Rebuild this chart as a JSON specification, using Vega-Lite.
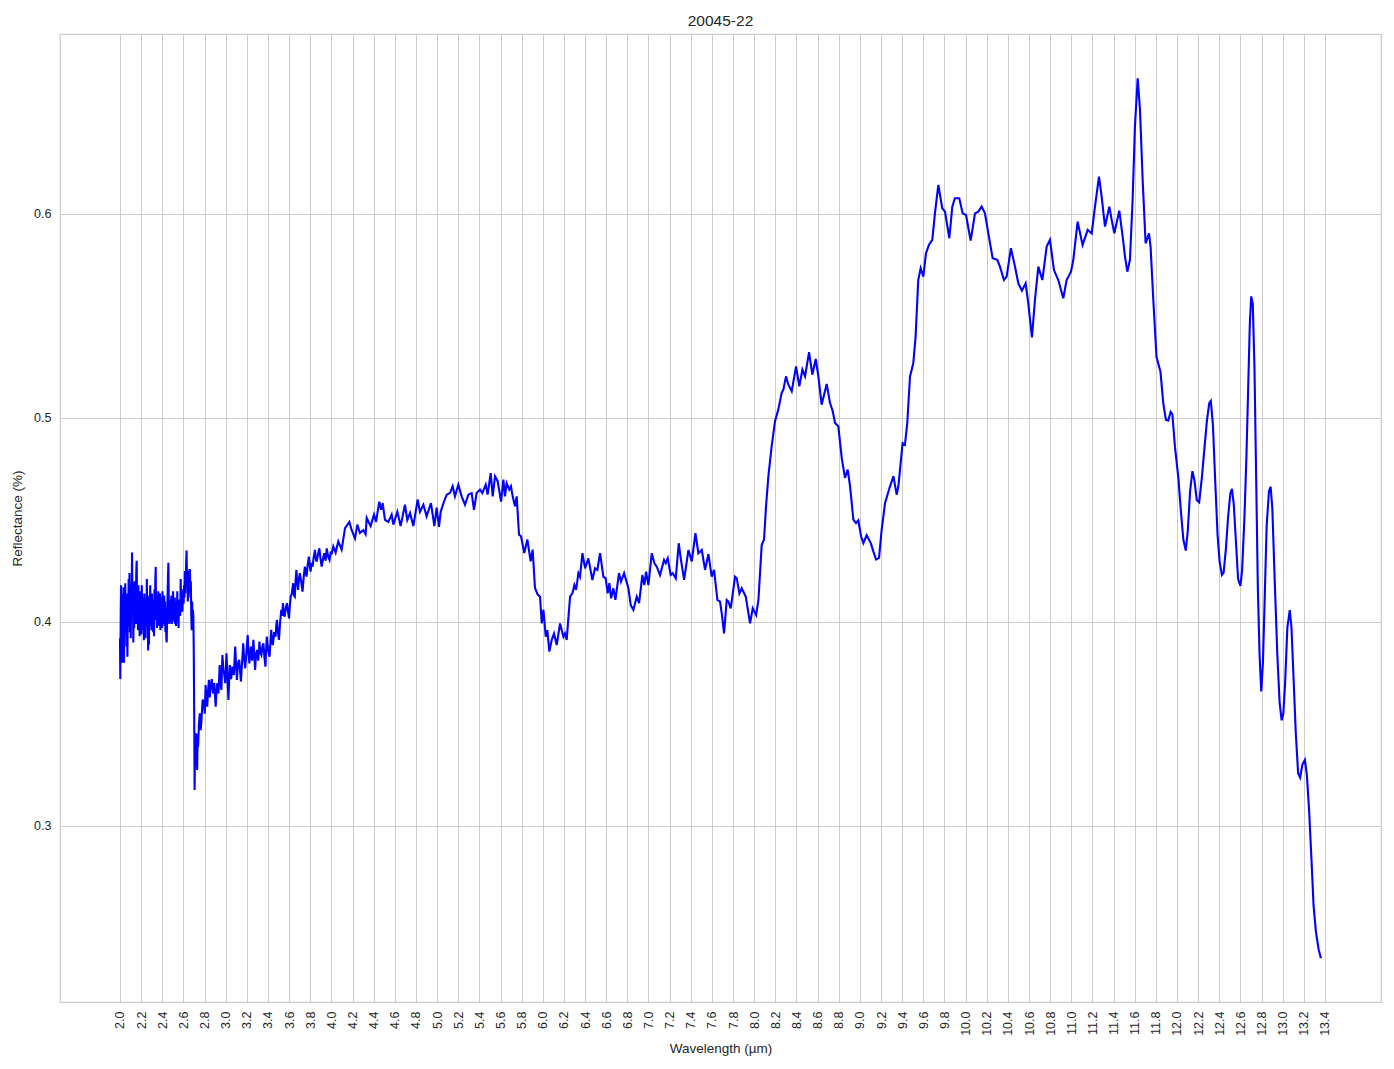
{
  "$schema": "https://vega.github.io/schema/vega-lite/v6.json",
  "width": 1321,
  "height": 968,
  "autosize": {"type": "none"},
  "padding": {"left": 60, "top": 34, "right": 13, "bottom": 67},
  "background": "white",
  "title": {"text": "20045-22", "anchor": "middle", "offset": 8, "baseline": "alphabetic", "dy": 15},
  "data": {"values": [
    {"w":2.000,"r":0.392},{"w":2.003,"r":0.372},{"w":2.007,"r":0.405},{"w":2.010,"r":0.418},{"w":2.014,"r":0.386},{"w":2.018,"r":0.410},{"w":2.022,"r":0.380},{"w":2.026,"r":0.414},{"w":2.030,"r":0.396},{"w":2.034,"r":0.417},{"w":2.038,"r":0.380},{"w":2.042,"r":0.408},{"w":2.046,"r":0.394},{"w":2.050,"r":0.419},{"w":2.054,"r":0.399},{"w":2.058,"r":0.412},{"w":2.062,"r":0.388},{"w":2.066,"r":0.414},{"w":2.070,"r":0.383},{"w":2.074,"r":0.405},{"w":2.078,"r":0.398},{"w":2.082,"r":0.421},{"w":2.086,"r":0.401},{"w":2.090,"r":0.424},{"w":2.094,"r":0.395},{"w":2.098,"r":0.415},{"w":2.102,"r":0.392},{"w":2.106,"r":0.418},{"w":2.110,"r":0.404},{"w":2.114,"r":0.434},{"w":2.118,"r":0.409},{"w":2.122,"r":0.419},{"w":2.126,"r":0.390},{"w":2.130,"r":0.411},{"w":2.134,"r":0.397},{"w":2.138,"r":0.420},{"w":2.142,"r":0.402},{"w":2.146,"r":0.416},{"w":2.150,"r":0.399},{"w":2.154,"r":0.425},{"w":2.158,"r":0.430},{"w":2.162,"r":0.404},{"w":2.166,"r":0.413},{"w":2.170,"r":0.396},{"w":2.174,"r":0.418},{"w":2.178,"r":0.401},{"w":2.182,"r":0.410},{"w":2.186,"r":0.393},{"w":2.190,"r":0.415},{"w":2.194,"r":0.399},{"w":2.198,"r":0.411},{"w":2.202,"r":0.394},{"w":2.206,"r":0.418},{"w":2.210,"r":0.403},{"w":2.214,"r":0.412},{"w":2.218,"r":0.396},{"w":2.222,"r":0.408},{"w":2.226,"r":0.391},{"w":2.230,"r":0.414},{"w":2.234,"r":0.397},{"w":2.238,"r":0.411},{"w":2.242,"r":0.392},{"w":2.246,"r":0.409},{"w":2.250,"r":0.401},{"w":2.254,"r":0.421},{"w":2.258,"r":0.398},{"w":2.262,"r":0.412},{"w":2.266,"r":0.386},{"w":2.270,"r":0.405},{"w":2.274,"r":0.389},{"w":2.278,"r":0.413},{"w":2.282,"r":0.398},{"w":2.286,"r":0.418},{"w":2.290,"r":0.401},{"w":2.294,"r":0.410},{"w":2.298,"r":0.396},{"w":2.302,"r":0.414},{"w":2.306,"r":0.400},{"w":2.310,"r":0.411},{"w":2.314,"r":0.395},{"w":2.318,"r":0.408},{"w":2.322,"r":0.393},{"w":2.326,"r":0.416},{"w":2.330,"r":0.402},{"w":2.334,"r":0.420},{"w":2.338,"r":0.427},{"w":2.342,"r":0.401},{"w":2.346,"r":0.413},{"w":2.350,"r":0.397},{"w":2.354,"r":0.410},{"w":2.358,"r":0.399},{"w":2.362,"r":0.415},{"w":2.366,"r":0.398},{"w":2.370,"r":0.409},{"w":2.374,"r":0.402},{"w":2.378,"r":0.414},{"w":2.382,"r":0.396},{"w":2.386,"r":0.406},{"w":2.390,"r":0.400},{"w":2.394,"r":0.412},{"w":2.398,"r":0.397},{"w":2.402,"r":0.415},{"w":2.406,"r":0.401},{"w":2.410,"r":0.408},{"w":2.414,"r":0.399},{"w":2.418,"r":0.413},{"w":2.422,"r":0.398},{"w":2.426,"r":0.410},{"w":2.430,"r":0.395},{"w":2.434,"r":0.405},{"w":2.438,"r":0.392},{"w":2.442,"r":0.390},{"w":2.446,"r":0.404},{"w":2.450,"r":0.412},{"w":2.454,"r":0.422},{"w":2.458,"r":0.429},{"w":2.462,"r":0.408},{"w":2.466,"r":0.399},{"w":2.470,"r":0.411},{"w":2.474,"r":0.400},{"w":2.478,"r":0.409},{"w":2.482,"r":0.402},{"w":2.486,"r":0.413},{"w":2.490,"r":0.399},{"w":2.494,"r":0.407},{"w":2.498,"r":0.401},{"w":2.502,"r":0.415},{"w":2.506,"r":0.403},{"w":2.510,"r":0.409},{"w":2.514,"r":0.400},{"w":2.518,"r":0.412},{"w":2.522,"r":0.399},{"w":2.526,"r":0.406},{"w":2.530,"r":0.398},{"w":2.534,"r":0.410},{"w":2.538,"r":0.402},{"w":2.542,"r":0.415},{"w":2.546,"r":0.400},{"w":2.550,"r":0.408},{"w":2.554,"r":0.397},{"w":2.558,"r":0.411},{"w":2.562,"r":0.404},{"w":2.566,"r":0.409},{"w":2.570,"r":0.403},{"w":2.574,"r":0.421},{"w":2.578,"r":0.410},{"w":2.582,"r":0.414},{"w":2.586,"r":0.406},{"w":2.590,"r":0.405},{"w":2.594,"r":0.411},{"w":2.598,"r":0.416},{"w":2.602,"r":0.409},{"w":2.606,"r":0.418},{"w":2.610,"r":0.412},{"w":2.614,"r":0.425},{"w":2.618,"r":0.414},{"w":2.622,"r":0.420},{"w":2.626,"r":0.429},{"w":2.630,"r":0.435},{"w":2.634,"r":0.418},{"w":2.638,"r":0.426},{"w":2.642,"r":0.410},{"w":2.646,"r":0.422},{"w":2.650,"r":0.417},{"w":2.654,"r":0.425},{"w":2.658,"r":0.414},{"w":2.662,"r":0.426},{"w":2.666,"r":0.412},{"w":2.670,"r":0.420},{"w":2.674,"r":0.405},{"w":2.678,"r":0.396},{"w":2.682,"r":0.410},{"w":2.686,"r":0.402},{"w":2.690,"r":0.406},{"w":2.694,"r":0.403},{"w":2.698,"r":0.385},{"w":2.702,"r":0.355},{"w":2.706,"r":0.3176},
    {"w":2.710,"r":0.342},{"w":2.714,"r":0.336},{"w":2.720,"r":0.3454},{"w":2.725,"r":0.334},{"w":2.730,"r":0.3275},{"w":2.735,"r":0.345},{"w":2.739,"r":0.339},{"w":2.747,"r":0.350},{"w":2.755,"r":0.3552},{"w":2.763,"r":0.347},{"w":2.771,"r":0.352},{"w":2.782,"r":0.362},{"w":2.794,"r":0.3601},{"w":2.802,"r":0.355},{"w":2.810,"r":0.3691},{"w":2.818,"r":0.362},{"w":2.825,"r":0.3585},{"w":2.833,"r":0.366},{"w":2.841,"r":0.3716},{"w":2.849,"r":0.363},{"w":2.857,"r":0.3683},{"w":2.868,"r":0.372},{"w":2.880,"r":0.365},{"w":2.892,"r":0.370},{"w":2.905,"r":0.3585},{"w":2.913,"r":0.366},{"w":2.921,"r":0.370},{"w":2.932,"r":0.365},{"w":2.943,"r":0.3789},{"w":2.951,"r":0.371},{"w":2.959,"r":0.3667},{"w":2.964,"r":0.375},{"w":2.969,"r":0.3838},{"w":2.977,"r":0.377},{"w":2.985,"r":0.3748},{"w":2.996,"r":0.370},{"w":3.007,"r":0.3846},{"w":3.016,"r":0.374},{"w":3.026,"r":0.3618},{"w":3.033,"r":0.372},{"w":3.039,"r":0.3789},{"w":3.051,"r":0.372},{"w":3.064,"r":0.3781},{"w":3.077,"r":0.374},{"w":3.090,"r":0.3879},{"w":3.098,"r":0.379},{"w":3.106,"r":0.3716},{"w":3.117,"r":0.380},{"w":3.128,"r":0.3814},{"w":3.136,"r":0.376},{"w":3.144,"r":0.3708},{"w":3.155,"r":0.380},{"w":3.166,"r":0.3895},{"w":3.175,"r":0.382},{"w":3.185,"r":0.3773},{"w":3.196,"r":0.385},{"w":3.208,"r":0.3936},{"w":3.216,"r":0.385},{"w":3.224,"r":0.3797},{"w":3.231,"r":0.384},{"w":3.239,"r":0.3879},{"w":3.250,"r":0.381},{"w":3.262,"r":0.3912},{"w":3.270,"r":0.384},{"w":3.278,"r":0.3765},{"w":3.287,"r":0.384},{"w":3.297,"r":0.3863},{"w":3.308,"r":0.381},{"w":3.319,"r":0.3904},{"w":3.328,"r":0.385},{"w":3.338,"r":0.3838},{"w":3.347,"r":0.388},{"w":3.357,"r":0.3895},{"w":3.366,"r":0.383},{"w":3.376,"r":0.3781},{"w":3.382,"r":0.386},{"w":3.389,"r":0.3928},{"w":3.402,"r":0.386},{"w":3.415,"r":0.383},{"w":3.423,"r":0.390},{"w":3.431,"r":0.3961},{"w":3.438,"r":0.390},{"w":3.446,"r":0.3887},{"w":3.459,"r":0.395},{"w":3.472,"r":0.3928},{"w":3.478,"r":0.398},{"w":3.485,"r":0.401},{"w":3.494,"r":0.395},{"w":3.504,"r":0.3912},{"w":3.515,"r":0.400},{"w":3.526,"r":0.4059},{"w":3.534,"r":0.403},{"w":3.542,"r":0.4092},{"w":3.550,"r":0.404},{"w":3.558,"r":0.4026},{"w":3.569,"r":0.407},{"w":3.580,"r":0.4092},{"w":3.590,"r":0.405},{"w":3.599,"r":0.4018},{"w":3.607,"r":0.408},{"w":3.615,"r":0.4124},{"w":3.626,"r":0.414},{"w":3.638,"r":0.419},{"w":3.646,"r":0.413},{"w":3.654,"r":0.4124},{"w":3.661,"r":0.420},{"w":3.669,"r":0.4255},{"w":3.677,"r":0.419},{"w":3.685,"r":0.4157},{"w":3.693,"r":0.421},{"w":3.701,"r":0.4239},{"w":3.714,"r":0.420},{"w":3.727,"r":0.4149},{"w":3.738,"r":0.422},{"w":3.749,"r":0.4271},{"w":3.757,"r":0.425},{"w":3.765,"r":0.4222},{"w":3.776,"r":0.428},{"w":3.787,"r":0.432},{"w":3.795,"r":0.428},{"w":3.803,"r":0.4247},{"w":3.812,"r":0.429},{"w":3.822,"r":0.4271},{"w":3.833,"r":0.432},{"w":3.845,"r":0.4353},{"w":3.853,"r":0.431},{"w":3.861,"r":0.4296},{"w":3.873,"r":0.433},{"w":3.886,"r":0.4361},{"w":3.897,"r":0.431},{"w":3.908,"r":0.4271},{"w":3.921,"r":0.431},{"w":3.934,"r":0.4337},{"w":3.945,"r":0.430},{"w":3.956,"r":0.4361},{"w":3.969,"r":0.432},{"w":3.982,"r":0.4304},{"w":3.993,"r":0.434},{"w":4.004,"r":0.4337},{"w":4.018,"r":0.437},
    {"w":4.040,"r":0.434},{"w":4.065,"r":0.4395},{"w":4.097,"r":0.4355},{"w":4.129,"r":0.446},{"w":4.170,"r":0.449},{"w":4.192,"r":0.445},{"w":4.223,"r":0.441},{"w":4.245,"r":0.4477},{"w":4.270,"r":0.4436},{"w":4.302,"r":0.445},{"w":4.324,"r":0.443},{"w":4.334,"r":0.451},{"w":4.371,"r":0.447},{"w":4.403,"r":0.4526},{"w":4.422,"r":0.449},{"w":4.453,"r":0.459},{"w":4.470,"r":0.455},{"w":4.485,"r":0.4583},{"w":4.507,"r":0.450},{"w":4.539,"r":0.449},{"w":4.570,"r":0.4526},{"w":4.586,"r":0.4477},{"w":4.624,"r":0.454},{"w":4.655,"r":0.447},{"w":4.696,"r":0.4575},{"w":4.718,"r":0.450},{"w":4.744,"r":0.4534},{"w":4.775,"r":0.447},{"w":4.816,"r":0.460},{"w":4.838,"r":0.454},{"w":4.870,"r":0.4575},{"w":4.901,"r":0.4518},{"w":4.942,"r":0.4583},{"w":4.974,"r":0.447},{"w":4.996,"r":0.456},{"w":5.018,"r":0.4466},{"w":5.034,"r":0.454},{"w":5.065,"r":0.459},{"w":5.091,"r":0.4624},{"w":5.122,"r":0.4632},{"w":5.147,"r":0.4665},{"w":5.169,"r":0.4616},{"w":5.201,"r":0.4673},{"w":5.232,"r":0.4616},{"w":5.264,"r":0.4575},{"w":5.296,"r":0.4624},{"w":5.327,"r":0.4632},{"w":5.349,"r":0.455},{"w":5.374,"r":0.4632},{"w":5.406,"r":0.4649},{"w":5.428,"r":0.4632},{"w":5.460,"r":0.4673},{"w":5.478,"r":0.4624},{"w":5.507,"r":0.473},{"w":5.526,"r":0.4616},{"w":5.548,"r":0.4714},{"w":5.573,"r":0.469},{"w":5.605,"r":0.459},{"w":5.627,"r":0.4698},{"w":5.642,"r":0.4616},{"w":5.658,"r":0.468},{"w":5.683,"r":0.4649},{"w":5.699,"r":0.4665},{"w":5.715,"r":0.4616},{"w":5.737,"r":0.4567},{"w":5.753,"r":0.4616},{"w":5.775,"r":0.4428},{"w":5.794,"r":0.442},{"w":5.825,"r":0.4338},{"w":5.854,"r":0.4404},{"w":5.885,"r":0.4297},{"w":5.904,"r":0.4355},{"w":5.926,"r":0.4167},{"w":5.952,"r":0.4134},{"w":5.974,"r":0.4124},
    {"w":5.990,"r":0.3993},{"w":6.006,"r":0.406},{"w":6.028,"r":0.3928},{"w":6.043,"r":0.396},{"w":6.062,"r":0.3855},{"w":6.084,"r":0.3912},{"w":6.106,"r":0.3944},{"w":6.132,"r":0.3887},{"w":6.163,"r":0.3993},{"w":6.195,"r":0.3928},{"w":6.210,"r":0.3944},{"w":6.226,"r":0.3912},{"w":6.258,"r":0.4124},{"w":6.280,"r":0.414},{"w":6.299,"r":0.4181},{"w":6.315,"r":0.4157},{"w":6.337,"r":0.4239},{"w":6.352,"r":0.4222},{"w":6.375,"r":0.4337},{"w":6.400,"r":0.4263},{"w":6.431,"r":0.4312},{"w":6.469,"r":0.4206},{"w":6.494,"r":0.4263},{"w":6.516,"r":0.4255},{"w":6.542,"r":0.4337},{"w":6.573,"r":0.4222},{"w":6.595,"r":0.4214},{"w":6.614,"r":0.414},{"w":6.630,"r":0.419},{"w":6.646,"r":0.4116},{"w":6.668,"r":0.4165},{"w":6.687,"r":0.4108},{"w":6.721,"r":0.4239},{"w":6.740,"r":0.4198},{"w":6.769,"r":0.4239},{"w":6.810,"r":0.4165},{"w":6.832,"r":0.4083},{"w":6.857,"r":0.4059},{"w":6.889,"r":0.4124},{"w":6.911,"r":0.4092},{"w":6.942,"r":0.423},{"w":6.961,"r":0.4181},{"w":6.977,"r":0.4247},{"w":6.999,"r":0.4181},{"w":7.031,"r":0.4337},{"w":7.056,"r":0.4288},{"w":7.078,"r":0.4271},{"w":7.109,"r":0.423},{"w":7.147,"r":0.4304},{"w":7.163,"r":0.4288},{"w":7.182,"r":0.4312},{"w":7.210,"r":0.423},{"w":7.229,"r":0.4239},{"w":7.258,"r":0.4214},{"w":7.286,"r":0.4386},{"w":7.305,"r":0.4312},{"w":7.337,"r":0.4206},{"w":7.378,"r":0.4353},{"w":7.409,"r":0.4296},{"w":7.444,"r":0.4435},{"w":7.472,"r":0.4337},{"w":7.504,"r":0.4353},{"w":7.535,"r":0.4255},{"w":7.567,"r":0.4333},{"w":7.598,"r":0.4222},{"w":7.620,"r":0.4255},{"w":7.652,"r":0.4108},{"w":7.677,"r":0.41},{"w":7.693,"r":0.4042},{"w":7.715,"r":0.3944},{"w":7.740,"r":0.4108},{"w":7.756,"r":0.41},{"w":7.778,"r":0.4067},{"w":7.819,"r":0.4222},{"w":7.835,"r":0.4214},{"w":7.860,"r":0.414},{"w":7.882,"r":0.4165},{"w":7.920,"r":0.4124},{"w":7.961,"r":0.3993},{"w":7.986,"r":0.4067},{"w":8.018,"r":0.4034},{"w":8.040,"r":0.4108},{"w":8.071,"r":0.4377},{"w":8.093,"r":0.4404},
    {"w":8.112,"r":0.4567},{"w":8.134,"r":0.4714},{"w":8.165,"r":0.4861},{"w":8.197,"r":0.4984},{"w":8.228,"r":0.5041},{"w":8.260,"r":0.5123},{"w":8.276,"r":0.5139},{"w":8.301,"r":0.5204},{"w":8.323,"r":0.5163},{"w":8.355,"r":0.5131},{"w":8.396,"r":0.5253},{"w":8.427,"r":0.5155},{"w":8.456,"r":0.5237},{"w":8.481,"r":0.5204},{"w":8.519,"r":0.5322},{"w":8.550,"r":0.5212},{"w":8.582,"r":0.5289},{"w":8.607,"r":0.5204},{"w":8.638,"r":0.5065},{"w":8.686,"r":0.5167},{"w":8.717,"r":0.5074},{"w":8.743,"r":0.5033},{"w":8.765,"r":0.4975},{"w":8.796,"r":0.4959},{"w":8.828,"r":0.4804},{"w":8.859,"r":0.4706},{"w":8.885,"r":0.4747},{"w":8.907,"r":0.4665},{"w":8.938,"r":0.4502},{"w":8.963,"r":0.4485},{"w":8.985,"r":0.4498},{"w":9.011,"r":0.442},{"w":9.033,"r":0.4387},{"w":9.064,"r":0.4425},{"w":9.105,"r":0.4384},{"w":9.127,"r":0.4346},{"w":9.153,"r":0.4306},{"w":9.181,"r":0.4314},{"w":9.206,"r":0.4453},{"w":9.238,"r":0.4583},{"w":9.285,"r":0.4665},{"w":9.317,"r":0.4714},{"w":9.348,"r":0.4624},{"w":9.364,"r":0.4665},
    {"w":9.404,"r":0.4876},{"w":9.426,"r":0.4868},{"w":9.448,"r":0.4974},{"w":9.474,"r":0.5203},{"w":9.505,"r":0.5268},{"w":9.527,"r":0.5399},{"w":9.552,"r":0.5676},{"w":9.575,"r":0.5734},{"w":9.600,"r":0.5693},{"w":9.625,"r":0.5807},{"w":9.653,"r":0.5848},{"w":9.685,"r":0.5873},{"w":9.710,"r":0.6003},{"w":9.742,"r":0.6142},{"w":9.779,"r":0.6028},{"w":9.805,"r":0.6011},{"w":9.846,"r":0.5881},{"w":9.874,"r":0.6036},{"w":9.899,"r":0.6077},{"w":9.940,"r":0.6077},{"w":9.972,"r":0.6003},{"w":10.004,"r":0.5995},{"w":10.048,"r":0.5869},{"w":10.089,"r":0.6003},{"w":10.120,"r":0.6011},{"w":10.152,"r":0.6036},{"w":10.183,"r":0.6003},{"w":10.215,"r":0.5905},{"w":10.256,"r":0.5783},{"w":10.300,"r":0.5775},{"w":10.325,"r":0.5742},{"w":10.363,"r":0.5676},{"w":10.388,"r":0.5693},{"w":10.429,"r":0.5832},{"w":10.467,"r":0.5742},{"w":10.499,"r":0.566},{"w":10.533,"r":0.5624},{"w":10.568,"r":0.566},{"w":10.593,"r":0.5562},{"w":10.628,"r":0.5395},{"w":10.656,"r":0.5578},{"w":10.688,"r":0.5742},{"w":10.726,"r":0.5676},{"w":10.767,"r":0.584},{"w":10.798,"r":0.5873},{"w":10.836,"r":0.5725},{"w":10.877,"r":0.5676},{"w":10.924,"r":0.5587},{"w":10.956,"r":0.5676},{"w":10.997,"r":0.5717},{"w":11.019,"r":0.5775},{"w":11.060,"r":0.5962},{"w":11.107,"r":0.5848},{"w":11.155,"r":0.5922},{"w":11.193,"r":0.5905},{"w":11.224,"r":0.6036},
    {"w":11.262,"r":0.6183},{"w":11.287,"r":0.6085},{"w":11.319,"r":0.5938},{"w":11.360,"r":0.6036},{"w":11.382,"r":0.5971},{"w":11.407,"r":0.5905},{"w":11.454,"r":0.6016},{"w":11.486,"r":0.5889},{"w":11.508,"r":0.5791},{"w":11.530,"r":0.5717},{"w":11.555,"r":0.5775},{"w":11.580,"r":0.6069},{"w":11.602,"r":0.6428},{"w":11.628,"r":0.6665},{"w":11.650,"r":0.651},{"w":11.675,"r":0.6167},{"w":11.703,"r":0.5856},{"w":11.735,"r":0.5905},{"w":11.750,"r":0.584},{"w":11.776,"r":0.5578},
    {"w":11.806,"r":0.53},{"w":11.822,"r":0.5268},{"w":11.844,"r":0.5225},{"w":11.870,"r":0.5073},{"w":11.895,"r":0.4991},{"w":11.917,"r":0.4987},{"w":11.940,"r":0.503},{"w":11.956,"r":0.5019},{"w":11.981,"r":0.4857},{"w":12.013,"r":0.4706},{"w":12.035,"r":0.4555},{"w":12.060,"r":0.4404},{"w":12.083,"r":0.435},{"w":12.102,"r":0.4447},{"w":12.124,"r":0.4641},{"w":12.146,"r":0.4739},{"w":12.165,"r":0.4695},{"w":12.187,"r":0.4598},{"w":12.210,"r":0.4587},{"w":12.235,"r":0.4706},{"w":12.257,"r":0.4836},{"w":12.283,"r":0.4987},{"w":12.305,"r":0.5073},{"w":12.320,"r":0.5084},{"w":12.340,"r":0.4965},{"w":12.362,"r":0.4685},{"w":12.384,"r":0.4425},{"w":12.403,"r":0.4296},{"w":12.425,"r":0.4231},{"w":12.441,"r":0.4242},{"w":12.463,"r":0.4361},{"w":12.483,"r":0.4512},{"w":12.505,"r":0.4631},{"w":12.520,"r":0.4652},{"w":12.537,"r":0.4577},{"w":12.559,"r":0.4382},{"w":12.578,"r":0.421},{"w":12.600,"r":0.4177},{"w":12.616,"r":0.4253},{"w":12.638,"r":0.4512},{"w":12.657,"r":0.4814},{"w":12.673,"r":0.5138},{"w":12.689,"r":0.5462},{"w":12.702,"r":0.5596},{"w":12.717,"r":0.5559},{"w":12.733,"r":0.5246},{"w":12.749,"r":0.4706},{"w":12.765,"r":0.4166},{"w":12.781,"r":0.3842},{"w":12.797,"r":0.3659},{"w":12.813,"r":0.3799},{"w":12.829,"r":0.4102},{"w":12.848,"r":0.4469},{"w":12.870,"r":0.4641},{"w":12.886,"r":0.4663},{"w":12.902,"r":0.4555},{"w":12.924,"r":0.421},{"w":12.949,"r":0.3842},{"w":12.971,"r":0.3605},{"w":12.990,"r":0.3518},{"w":13.006,"r":0.3551},{"w":13.022,"r":0.3691},{"w":13.044,"r":0.3972},{"w":13.067,"r":0.4058},{"w":13.083,"r":0.3972},{"w":13.102,"r":0.3734},{"w":13.124,"r":0.3454},{"w":13.146,"r":0.3259},{"w":13.165,"r":0.3238},{"w":13.187,"r":0.3302},{"w":13.210,"r":0.3324},{"w":13.229,"r":0.3248},{"w":13.251,"r":0.3065},{"w":13.273,"r":0.2827},{"w":13.292,"r":0.2611},{"w":13.314,"r":0.2482},{"w":13.340,"r":0.2395},{"w":13.362,"r":0.2352}
  ]},
  "mark": {"type": "line", "color": "#0000ff", "strokeWidth": 2.1, "clip": true},
  "encoding": {
    "x": {
      "field": "w", "type": "quantitative",
      "scale": {"domain": [1.4324, 13.93], "nice": false, "zero": false},
      "axis": {
        "title": "Wavelength (µm)",
        "values": [2.0,2.2,2.4,2.6,2.8,3.0,3.2,3.4,3.6,3.8,4.0,4.2,4.4,4.6,4.8,5.0,5.2,5.4,5.6,5.8,6.0,6.2,6.4,6.6,6.8,7.0,7.2,7.4,7.6,7.8,8.0,8.2,8.4,8.6,8.8,9.0,9.2,9.4,9.6,9.8,10.0,10.2,10.4,10.6,10.8,11.0,11.2,11.4,11.6,11.8,12.0,12.2,12.4,12.6,12.8,13.0,13.2,13.4],
        "format": ".1f",
        "labelAngle": 270,
        "labelPadding": 9,
        "labelOverlap": false,
        "labelFlush": false,
        "ticks": false,
        "domain": false,
        "titlePadding": 6
      }
    },
    "y": {
      "field": "r", "type": "quantitative",
      "scale": {"domain": [0.21373, 0.6882], "nice": false, "zero": false},
      "axis": {
        "title": "Reflectance (%)",
        "values": [0.3, 0.4, 0.5, 0.6],
        "format": ".1f",
        "ticks": false,
        "domain": false,
        "labelPadding": 9,
        "titlePadding": 9
      }
    }
  },
  "config": {
    "view": {"stroke": "#cccccc", "strokeWidth": 1.25},
    "axis": {
      "labelFont": "Liberation Sans", "titleFont": "Liberation Sans",
      "labelFontSize": 12.5, "titleFontSize": 13.5,
      "labelColor": "#262626", "titleColor": "#262626",
      "titleFontWeight": "normal",
      "gridColor": "#cccccc", "gridWidth": 1, "gridOpacity": 1
    },
    "title": {"font": "Liberation Sans", "fontSize": 15.5, "fontWeight": "normal", "color": "#262626"}
  }
}
